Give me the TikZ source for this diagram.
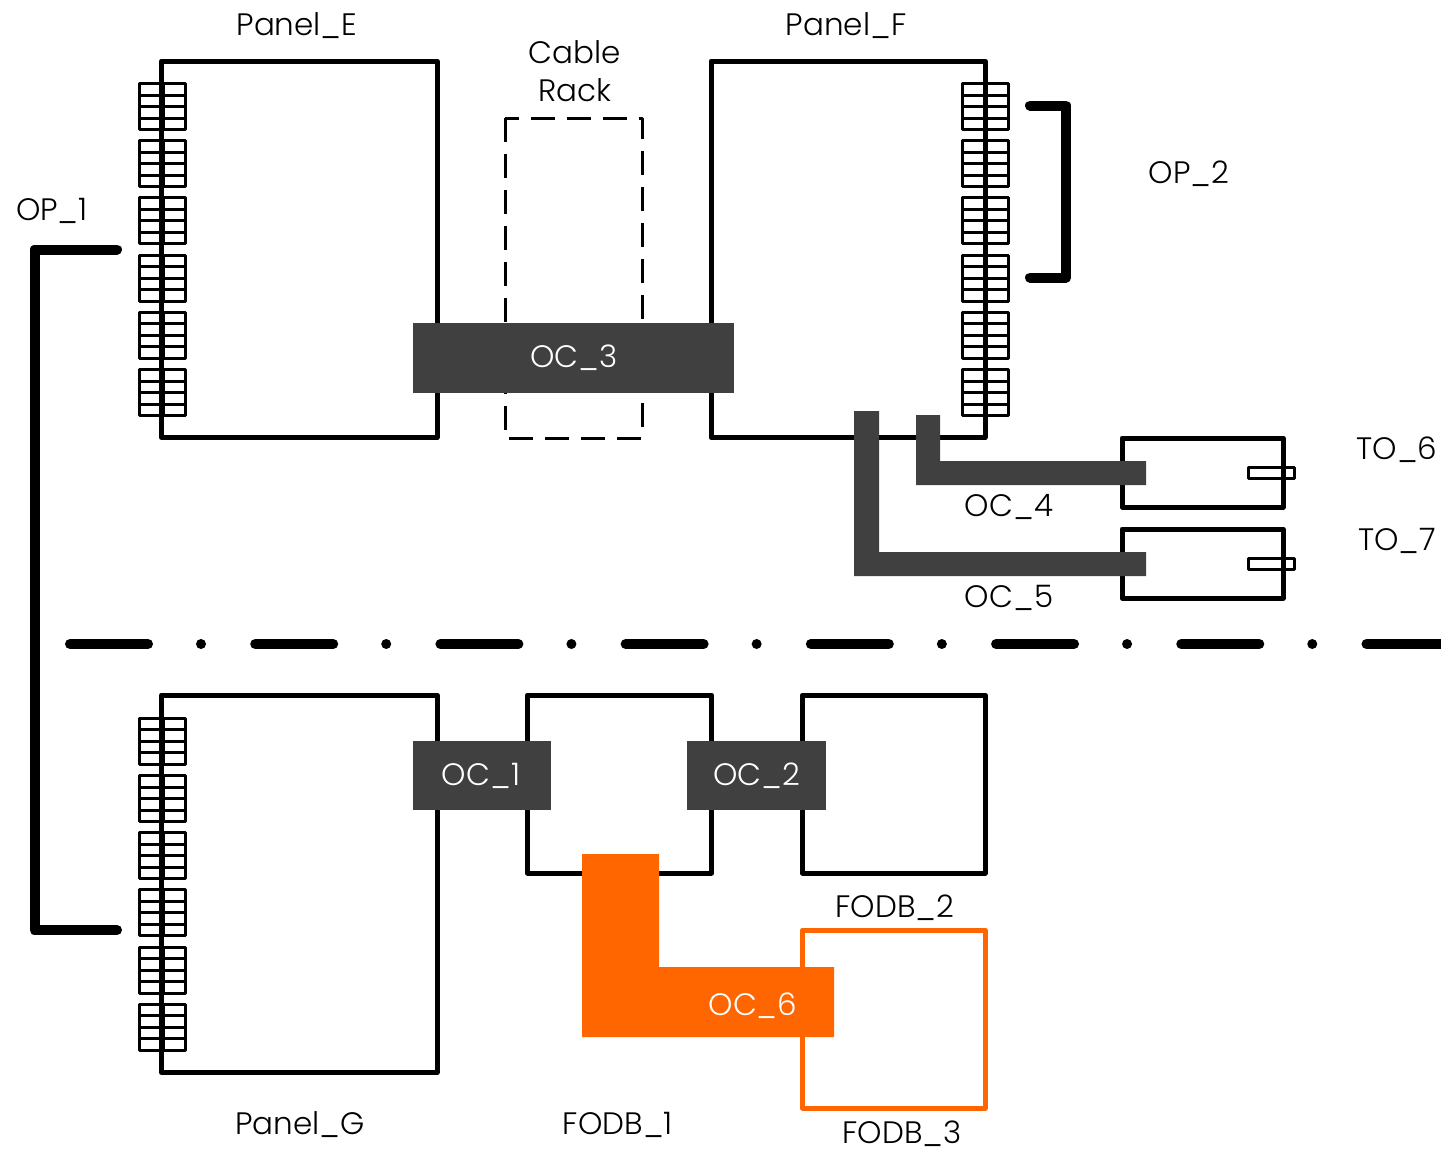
\documentclass[tikz,border=0pt]{standalone}
\usepackage{fontspec}
\setmainfont{Poppins Light}
\definecolor{cable}{HTML}{404040}
\definecolor{orng}{HTML}{FF6600}
\tikzset{
  x=1pt,y=-1pt,
  lbl/.style={font=\fontsize{31}{38}\selectfont,inner sep=0pt,align=center,text=black},
  wlbl/.style={lbl,text=white},
  frame/.style={draw=black,line width=5pt,line join=round},
  pin/.style={draw=black,line width=3pt,line join=round},
  patch/.style={draw=black,line width=10pt,line cap=round,line join=round},
  cablefill/.style={fill=cable,draw=none},
}
\newcommand{\bx}[6][frame]{% style, name, x1,y1,x2,y2
  \draw[#1] (#3,#4) rectangle (#5,#6);
  \coordinate (#2) at ({(#3+#5)/2},{(#4+#6)/2});
}
\newcommand{\portcol}[2]{% x-center, top y
  \foreach \g in {0,...,5}{
    \pgfmathsetmacro{\yt}{#2+57.2*\g}
    \foreach \r in {0,...,3}{
      \pgfmathsetmacro{\ya}{\yt+11.5*\r}
      \pgfmathsetmacro{\yb}{\yt+11.5*(\r+1)}
      \draw[pin] (#1-23,\ya) rectangle (#1+23,\yb);
    }
    \draw[line width=5pt] (#1,\yt) -- (#1,\yt+46);
  }
}
\begin{document}
\begin{tikzpicture}
\useasboundingbox (0,0) rectangle (1441,1151);
% Panels
\bx{panelE}{161.5}{61}{437}{437.5}
\bx{panelF}{711}{61}{985}{437.5}
\bx{panelG}{161.5}{695}{437}{1072.5}
\portcol{162.5}{83.5}
\portcol{985.3}{83.5}
\portcol{162.5}{718.3}
% Cable rack
\draw[line width=3pt,dash pattern=on 24pt off 12pt,line join=round] (505,118) rectangle (642,438);
% FODB
\bx{fodbA}{527.5}{695}{711.5}{873}
\bx{fodbB}{802.5}{695}{985}{873}
\draw[draw=orng,line width=5pt,line join=round] (802.5,930) rectangle (985,1108);
% TO boxes
\bx{toA}{1122}{438}{1283}{507}
\bx{toB}{1122}{529}{1283}{598}
\draw[pin] (1248,467) rectangle (1294,478);
\draw[pin] (1248,558) rectangle (1294,569);
% Patch cords
\coordinate (opAa) at (117,249.5);
\coordinate (opAb) at (34.5,249.5);
\coordinate (opAc) at (34.5,930);
\coordinate (opAd) at (117,930);
\draw[patch] (opAa) -- (opAb) -- (opAc) -- (opAd);
\coordinate (opBa) at (1030,105.5);
\coordinate (opBb) at (1066,105.5);
\coordinate (opBc) at (1066,277.5);
\coordinate (opBd) at (1030,277.5);
\draw[patch] (opBa) -- (opBb) -- (opBc) -- (opBd);
% Divider
\draw[line width=10pt,line cap=round,dash pattern=on 78pt off 53pt on 0.01pt off 54.2pt] (70,644) -- (1450,644);
% Cables
\fill[cablefill] (413,323) rectangle (734,393);
\fill[cablefill] (413,741) rectangle (551,810);
\fill[cablefill] (687,741) rectangle (826,810);
\fill[cablefill] (916,415) -- (940,415) -- (940,461) -- (1146,461) -- (1146,485) -- (916,485) -- cycle;
\fill[cablefill] (854,411) -- (879,411) -- (879,552) -- (1146,552) -- (1146,576) -- (854,576) -- cycle;
\fill[orng] (582,854) -- (659,854) -- (659,967) -- (834,967) -- (834,1037) -- (582,1037) -- cycle;
% Labels
\node[lbl] (lE) at (297,26) {Panel\_E};
\node[lbl] (lF) at (846,26) {Panel\_F};
\node[lbl] (lG) at (300,1125) {Panel\_G};
\node[lbl] (lR) at (574.5,71) {Cable\\Rack};
\node[lbl] (lO1) at (52,211) {OP\_1};
\node[lbl] (lO2) at (1189,174) {OP\_2};
\node[lbl] (lT6) at (1397,450) {TO\_6};
\node[lbl] (lT7) at (1397,541) {TO\_7};
\node[lbl] (lC4) at (1009,507) {OC\_4};
\node[lbl] (lC5) at (1009,598) {OC\_5};
\node[wlbl] (lC3) at (574,358) {OC\_3};
\node[wlbl] (lC1) at (481,776) {OC\_1};
\node[wlbl] (lC2) at (757,776) {OC\_2};
\node[wlbl] (lC6) at (753,1006) {OC\_6};
\node[lbl] (lD1) at (618,1125) {FODB\_1};
\node[lbl] (lD2) at (895,908) {FODB\_2};
\node[lbl] (lD3) at (902,1134) {FODB\_3};
\end{tikzpicture}
\end{document}
